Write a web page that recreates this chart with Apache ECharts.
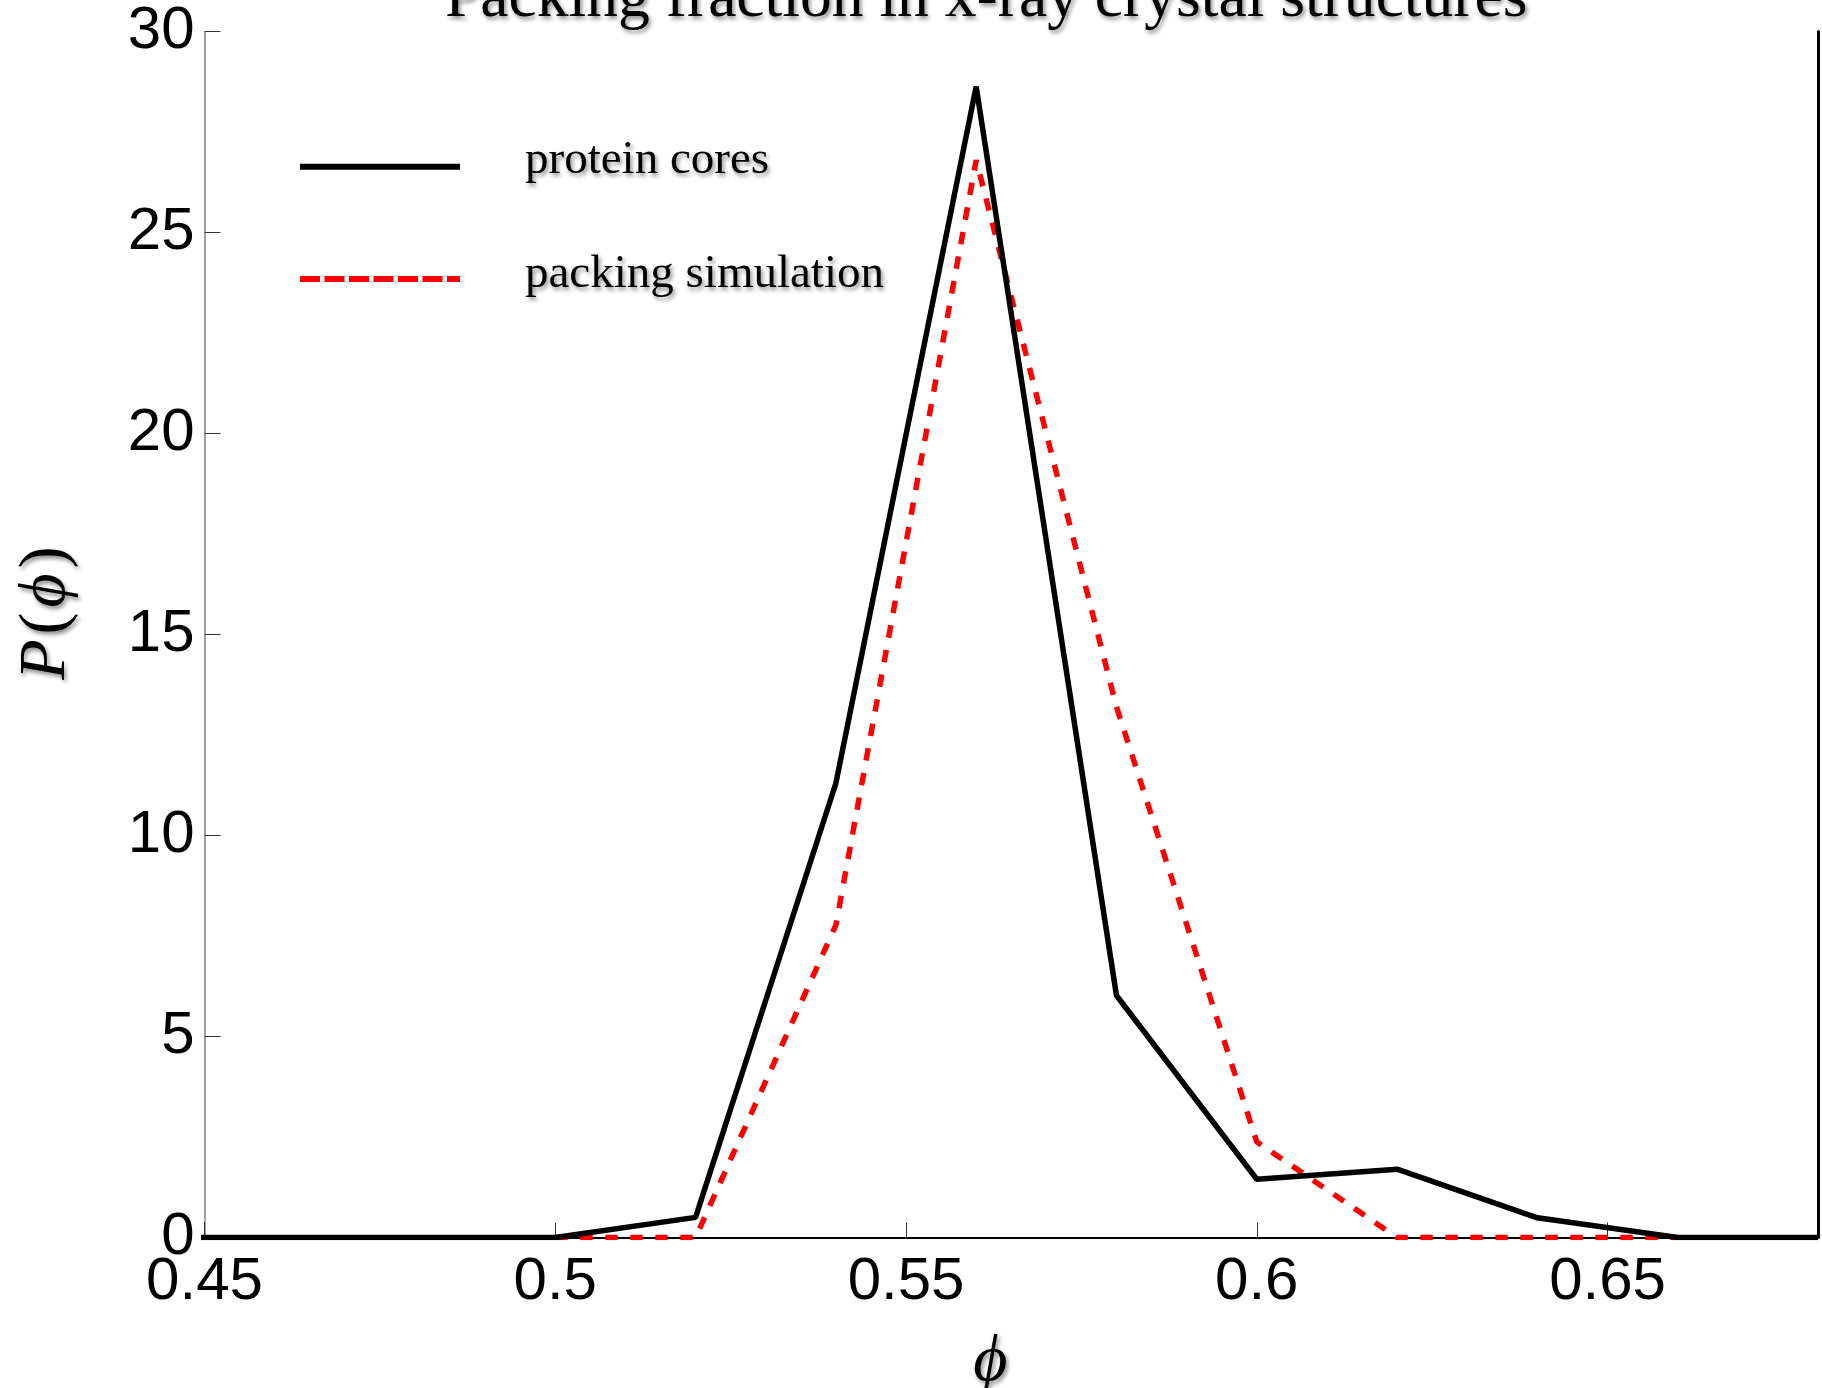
<!DOCTYPE html>
<html>
<head>
<meta charset="utf-8">
<title>Packing fraction</title>
<script src="https://cdn.jsdelivr.net/npm/echarts@6/dist/echarts.min.js"></script>
<style>
  html, body { margin: 0; padding: 0; background: #fff; }
  #chart { width: 1822px; height: 1388px; }
</style>
</head>
<body>
<div id="chart"></div>
<script>
// bin centres (phi) and the two distributions
var phiValues = [0.44, 0.46, 0.48, 0.50, 0.52, 0.54, 0.56, 0.58, 0.60, 0.62, 0.64, 0.66, 0.68];
var proteinCores = [0, 0, 0, 0, 0.5, 11.3, 28.63, 6.02, 1.45, 1.70, 0.49, 0, 0];
var simPhi = [0.50, 0.52, 0.54, 0.56, 0.58, 0.60, 0.62, 0.64, 0.66];
var packingSim = [0, 0, 7.77, 26.8, 13.2, 2.38, 0, 0, 0];
var xTicks = [0.45, 0.5, 0.55, 0.6, 0.65];
var yTicks = [0, 5, 10, 15, 20, 25, 30];

var seriesNames = ['protein cores', 'packing simulation'];

function pairs(xs, ys) {
  var out = [];
  for (var i = 0; i < xs.length; i++) {
    out.push([xs[i], ys[i]]);
  }
  return out;
}

var serif = '"Liberation Serif", "Times New Roman", serif';
var sans = '"Liberation Sans", Arial, sans-serif';
var shadow = {
  textShadowColor: 'rgba(0,0,0,0.45)',
  textShadowBlur: 4,
  textShadowOffsetX: 2,
  textShadowOffsetY: 3
};

var myChart = echarts.init(document.getElementById('chart'));

var option = {
  backgroundColor: '#ffffff',
  animation: false,
  title: {
    text: 'Packing fraction in x-ray crystal structures',
    left: 440,
    top: -38,
    textStyle: Object.assign({
      fontFamily: serif,
      fontWeight: 'normal',
      fontSize: 63.6,
      color: '#000'
    }, shadow)
  },
  // two legends: one draws the line samples, the other the labels
  legend: [{
    orient: 'vertical',
    left: 297,
    top: 163.7,
    padding: 0,
    itemWidth: 160,
    itemHeight: 6,
    itemGap: 106.3,
    itemStyle: { color: 'rgba(0,0,0,0)', borderWidth: 0, opacity: 0 },
    lineStyle: { width: 6 },
    formatter: function () { return ''; },
    textStyle: { fontSize: 1 },
    data: [
      { name: seriesNames[0], lineStyle: { width: 6, type: 'solid' } },
      { name: seriesNames[1], lineStyle: { width: 6, type: [20, 4.5] } }
    ]
  }, {
    orient: 'vertical',
    left: 519,
    top: 137,
    padding: 0,
    itemWidth: 1,
    itemHeight: 1,
    itemGap: 67,
    itemStyle: { color: 'rgba(0,0,0,0)', borderWidth: 0, opacity: 0 },
    lineStyle: { width: 0, opacity: 0 },
    data: seriesNames,
    textStyle: Object.assign({
      fontFamily: serif,
      fontSize: 47,
      color: '#000'
    }, shadow)
  }],
  grid: {
    left: 204.5,
    right: 4,
    top: 31.5,
    bottom: 150.5,
    outerBoundsMode: 'none'
  },
  xAxis: [{
    type: 'value',
    min: xTicks[0],
    max: 0.68,
    interval: 0.05,
    name: 'ϕ',
    nameLocation: 'middle',
    nameGap: 92,
    nameTextStyle: Object.assign({
      fontFamily: serif,
      fontStyle: 'italic',
      fontSize: 66,
      color: '#000',
      padding: [0, 42, 0, 0]
    }, shadow),
    axisLine: { lineStyle: { color: '#808080', width: 1.5 } },
    axisTick: { inside: true, length: 15, lineStyle: { color: '#333', width: 1 } },
    axisLabel: {
      margin: 15,
      fontFamily: sans,
      fontSize: 60,
      color: '#000',
      showMaxLabel: false
    },
    splitLine: { show: false }
  }, {
    type: 'value',
    position: 'top',
    min: xTicks[0],
    max: 0.68,
    axisLine: { lineStyle: { color: '#000', width: 2 } },
    axisTick: { show: false },
    axisLabel: { show: false },
    splitLine: { show: false }
  }],
  yAxis: [{
    type: 'value',
    min: yTicks[0],
    max: yTicks[yTicks.length - 1],
    interval: 5,
    name: '{i|P}({i|ϕ})',
    nameLocation: 'middle',
    nameGap: 125,
    nameRotate: 90,
    nameTextStyle: Object.assign({
      fontFamily: serif,
      fontSize: 66,
      color: '#000',
      padding: [0, 0, 0, 38],
      rich: {
        i: Object.assign({
          fontFamily: serif,
          fontStyle: 'italic',
          fontSize: 66,
          color: '#000',
          padding: [0, 5, 0, 5]
        }, shadow)
      }
    }, shadow),
    axisLine: { show: true, lineStyle: { color: '#808080', width: 1.5 } },
    axisTick: { show: true, inside: true, length: 16, lineStyle: { color: '#333', width: 1 } },
    axisLabel: {
      margin: 10,
      fontFamily: sans,
      fontSize: 60,
      color: '#000'
    },
    splitLine: { show: false }
  }, {
    type: 'value',
    position: 'right',
    min: yTicks[0],
    max: yTicks[yTicks.length - 1],
    axisLine: { show: true, lineStyle: { color: '#000', width: 3 } },
    axisTick: { show: false },
    axisLabel: { show: false },
    splitLine: { show: false }
  }],
  series: [{
    name: seriesNames[0],
    type: 'line',
    symbol: 'none',
    clip: true,
    data: pairs(phiValues, proteinCores),
    lineStyle: { color: '#000', width: 5.5 },
    itemStyle: { color: '#000' },
    z: 3
  }, {
    name: seriesNames[1],
    type: 'line',
    symbol: 'none',
    clip: true,
    data: pairs(simPhi, packingSim),
    lineStyle: { color: '#ff0000', width: 5.5, type: [12.5, 12.5] },
    itemStyle: { color: '#ff0000' },
    z: 2
  }]
};

myChart.setOption(option);
</script>
</body>
</html>
